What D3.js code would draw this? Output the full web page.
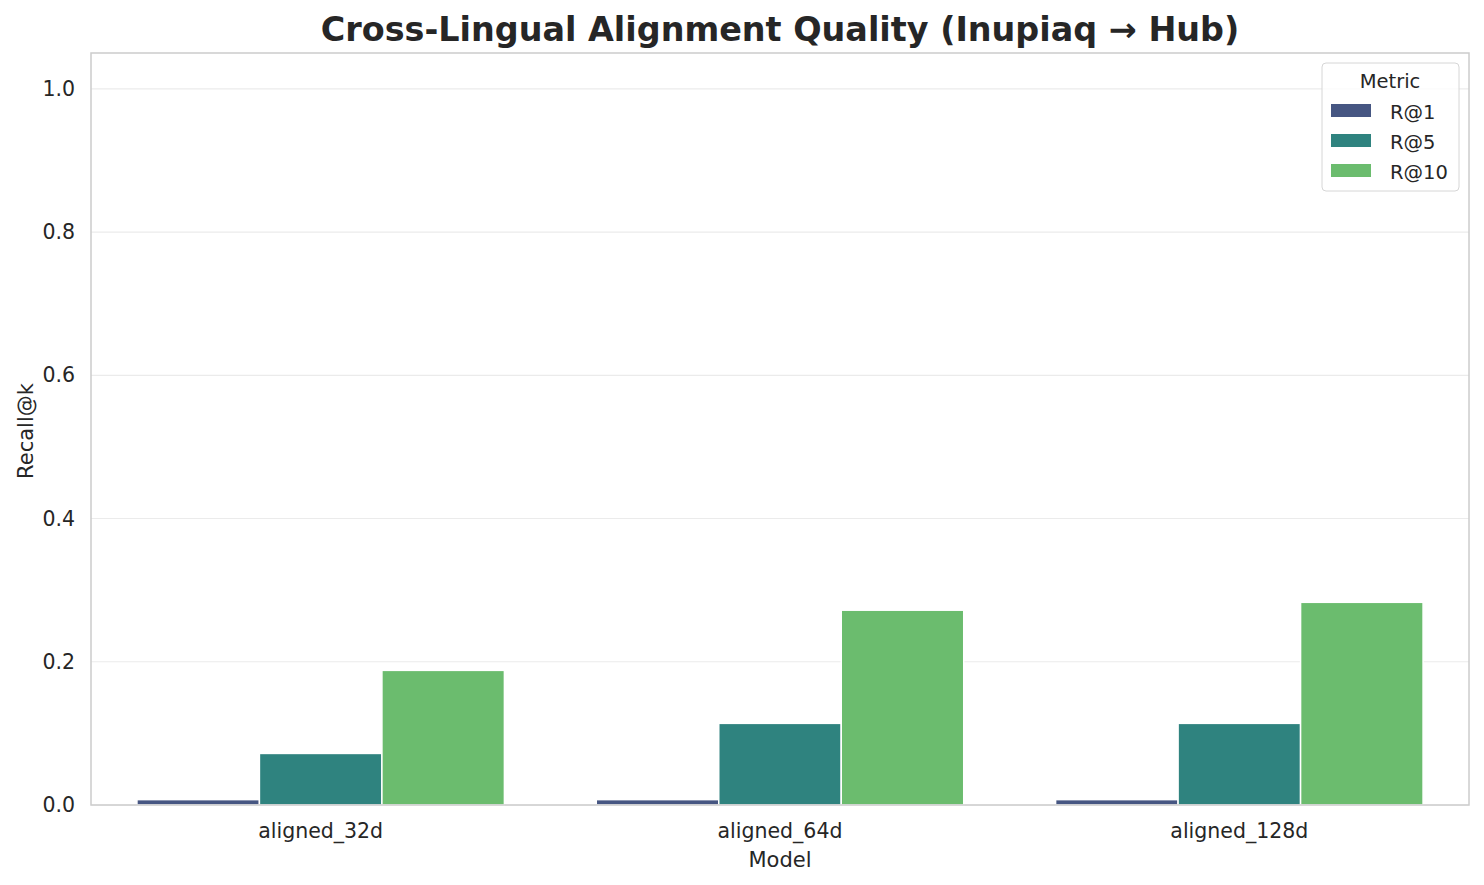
<!DOCTYPE html>
<html><head><meta charset="utf-8">
<script src="https://cdn.jsdelivr.net/npm/d3@7"></script>
<style>body{margin:0;background:#fff;} text{font-family:"DejaVu Sans",sans-serif;fill:#262626;}</style>
</head><body>
<svg id="c" width="1484" height="885"></svg>
<script>
const models = ["aligned_32d","aligned_64d","aligned_128d"];
const metrics = ["R@1","R@5","R@10"];
const r1 = [0.0075, 0.0075, 0.0075];
const r5 = [0.072, 0.114, 0.114];
const r10 = [0.188, 0.272, 0.283];
const yTicks = [0.0,0.2,0.4,0.6,0.8,1.0];
const colors = ["#465682","#2f837f","#6bbc6e"];
const seriesVals = [r1, r5, r10];

const svg = d3.select("#c");
const L = 91, R = 1469, T = 53, B = 805;
const x = d3.scaleBand().domain(models).range([L,R]).padding(0);
const xi = d3.scaleBand().domain(metrics).range([0, x.bandwidth()*0.8]);
const y = d3.scaleLinear().domain([0,1.05]).range([B,T]);

// grid
svg.append("g").selectAll("line").data(yTicks).join("line")
  .attr("x1",L).attr("x2",R).attr("y1",d=>y(d)).attr("y2",d=>y(d))
  .attr("stroke","#ebebeb").attr("stroke-width",1.2);

// bars
const data = [];
models.forEach((m,i)=>metrics.forEach((k,j)=>data.push({m,k,j,v:seriesVals[j][i]})));
svg.append("g").selectAll("rect").data(data).join("rect")
  .attr("x",d=>x(d.m)+x.bandwidth()*0.1+xi(d.k))
  .attr("width",xi.bandwidth())
  .attr("y",d=>y(d.v)).attr("height",d=>B-y(d.v))
  .attr("fill",d=>colors[d.j]).attr("stroke","#fff").attr("stroke-width",1.5);

// spines
svg.append("rect").attr("x",L).attr("y",T).attr("width",R-L).attr("height",B-T)
  .attr("fill","none").attr("stroke","#cccccc").attr("stroke-width",1.5);

// axes
const yAxis = svg.append("g").attr("transform",`translate(${L},0)`)
  .call(d3.axisLeft(y).tickValues(yTicks).tickFormat(d3.format(".1f")).tickSize(0).tickPadding(16));
yAxis.select(".domain").remove();
yAxis.selectAll("text").attr("font-size","20.5px").style("font-family","DejaVu Sans").attr("fill","#262626");

const xAxis = svg.append("g").attr("transform",`translate(0,${B})`)
  .call(d3.axisBottom(x).tickSize(0).tickPadding(18));
xAxis.select(".domain").remove();
xAxis.selectAll("text").attr("font-size","20.5px").style("font-family","DejaVu Sans").attr("fill","#262626");

// labels
svg.append("text").attr("x",(L+R)/2).attr("y",867).attr("text-anchor","middle")
  .attr("font-size","21px").text("Model");
svg.append("text").attr("transform","translate(33,"+((T+B)/2+2)+") rotate(-90)")
  .attr("text-anchor","middle").attr("font-size","21px").text("Recall@k");
svg.append("text").attr("x",(L+R)/2).attr("y",41).attr("text-anchor","middle")
  .attr("font-size","33.4px").attr("font-weight","bold").text("Cross-Lingual Alignment Quality (Inupiaq → Hub)");

// legend
const lg = svg.append("g");
lg.append("rect").attr("x",1322).attr("y",63).attr("width",137).attr("height",128).attr("rx",4)
  .attr("fill","#fff").attr("fill-opacity",0.8).attr("stroke","#d6d6d6").attr("stroke-width",1);
lg.append("text").attr("x",1390).attr("y",88).attr("text-anchor","middle").attr("font-size","19.5px").text("Metric");
metrics.forEach((k,j)=>{
  const cy = 110.5 + j*30;
  lg.append("rect").attr("x",1331).attr("y",cy-6.5).attr("width",40).attr("height",13).attr("fill",colors[j]);
  lg.append("text").attr("x",1390).attr("y",cy+8.5).attr("font-size","19.5px").text(k);
});
</script>
</body></html>
